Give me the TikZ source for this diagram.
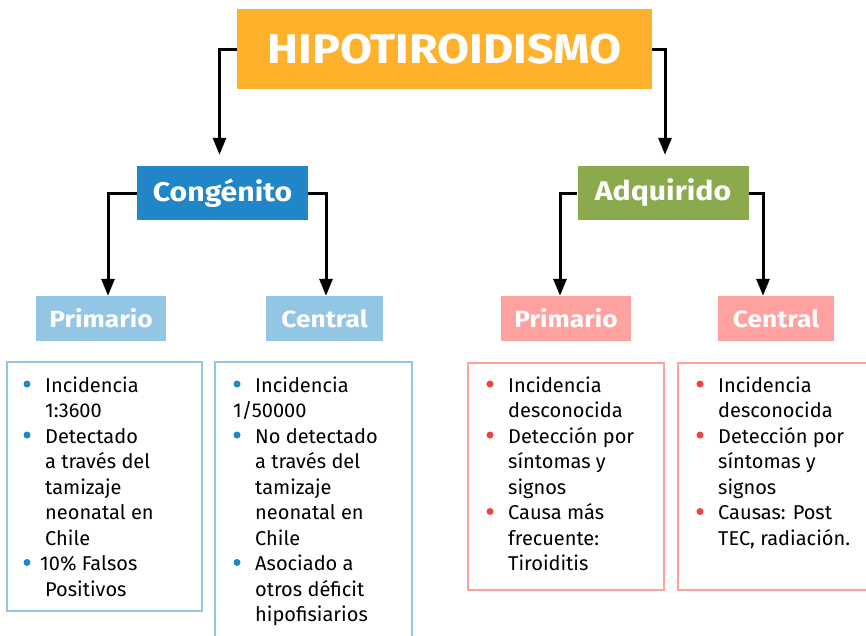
\documentclass[tikz,border=0pt]{standalone}
\usepackage{fontspec}
\setmainfont{Fira Sans}
\newfontfamily\hdfont[FakeStretch=1.12]{Fira Sans}
\usetikzlibrary{arrows.meta}
\definecolor{orng}{HTML}{FFB12B}
\definecolor{cblue}{HTML}{2086C8}
\definecolor{cgreen}{HTML}{8BAA4D}
\definecolor{lblue}{HTML}{93C5E5}
\definecolor{lpink}{HTML}{FFA19F}
\definecolor{bred}{HTML}{F0433E}
\tikzset{
  arr/.style={line width=3pt,-{Triangle[width=13pt,length=17pt]}},
  topbox/.style={fill=orng,text=white,minimum width=415pt,minimum height=80pt,inner sep=0pt,font=\hdfont\fontsize{41.5}{41.5}\selectfont\bfseries},
  midbox/.style={text=white,minimum width=171pt,minimum height=54pt,inner sep=0pt,font=\hdfont\fontsize{27}{27}\selectfont\bfseries},
  lowbox/.style={text=white,minimum height=45pt,inner sep=0pt,font=\hdfont\fontsize{23.5}{23.5}\selectfont\bfseries},
  listbox/.style={draw,line width=2.5pt,inner sep=0pt},
  txt/.style={anchor=base west,inner sep=0pt,font=\fontsize{20}{20}\selectfont},
  bul/.style={circle,inner sep=0pt,minimum size=7pt},
}
\begin{document}
\begin{tikzpicture}[x=1pt,y=-1pt]
\useasboundingbox (0,0) rectangle (866,635);
% headers
\node[topbox] (hipo) at (444.5,49) {HIPOTIROIDISMO};
\node[midbox,fill=cblue] (cong) at (222.5,193) {Congénito};
\node[midbox,fill=cgreen] (adq) at (663,193) {Adquirido};
\node[lowbox,fill=lblue,minimum width=130pt] (cprim) at (101,318.5) {Primario};
\node[lowbox,fill=lblue,minimum width=117pt] (ccen) at (324.5,318.5) {Central};
\node[lowbox,fill=lpink,minimum width=130pt] (aprim) at (566,318.5) {Primario};
\node[lowbox,fill=lpink,minimum width=116pt] (acen) at (776,318.5) {Central};
% connectors
\draw[arr] (hipo.west) -| ([xshift=-3pt,yshift=11pt]cong.north);
\draw[arr] (hipo.east) -| ([xshift=2pt,yshift=11pt]adq.north);
\draw[arr] (cong.west) -| ([xshift=7pt]cprim.north);
\draw[arr] (cong.east) -| ([xshift=1.5pt]ccen.north);
\draw[arr] (adq.west) -| ([xshift=-6pt]aprim.north);
\draw[arr] (adq.east) -| ([xshift=-13pt]acen.north);
% list boxes
\node[listbox,draw=lblue,minimum width=195pt,minimum height=249pt] (l1) at (104.5,486.5) {};
\node[listbox,draw=lblue,minimum width=197pt,minimum height=290pt] (l2) at (313.5,507) {};
\node[listbox,draw=lpink,minimum width=196pt,minimum height=227pt] (l3) at (566,476.5) {};
\node[listbox,draw=lpink,minimum width=202pt,minimum height=227pt] (l4) at (779,476.5) {};
% box 1
\node[bul,fill=cblue] (b1a) at (27,384) {};
\node[bul,fill=cblue] (b1b) at (27,435) {};
\node[bul,fill=cblue] (b1c) at (27,562.5) {};
\node[txt] (t11) at (45,392) {Incidencia};
\node[txt] (t12) at (45,417.5) {1:3600};
\node[txt] (t13) at (45,443) {Detectado};
\node[txt] (t14) at (45,468.5) {a través del};
\node[txt] (t15) at (45,494) {tamizaje};
\node[txt] (t16) at (45,519.5) {neonatal en};
\node[txt] (t17) at (45,545) {Chile};
\node[txt] (t18) at (40,570.5) {10\% Falsos};
\node[txt] (t19) at (45,596) {Positivos};
% box 2
\node[bul,fill=cblue] (b2a) at (237,384) {};
\node[bul,fill=cblue] (b2b) at (237,435) {};
\node[bul,fill=cblue] (b2c) at (237,562.5) {};
\node[txt] (t21) at (255,392) {Incidencia};
\node[txt] (t22) at (233,417.5) {1/50000};
\node[txt] (t23) at (255,443) {No detectado};
\node[txt] (t24) at (255,468.5) {a través del};
\node[txt] (t25) at (255,494) {tamizaje};
\node[txt] (t26) at (255,519.5) {neonatal en};
\node[txt] (t27) at (255,545) {Chile};
\node[txt] (t28) at (255,570.5) {Asociado a};
\node[txt] (t29) at (255,596) {otros déficit};
\node[txt] (t2a) at (255,621.5) {hipofisiarios};
% box 3
\node[bul,fill=bred] (b3a) at (490,384) {};
\node[bul,fill=bred] (b3b) at (490,435) {};
\node[bul,fill=bred] (b3c) at (490,511.5) {};
\node[txt] (t31) at (508,392) {Incidencia};
\node[txt] (t32) at (508,417.5) {desconocida};
\node[txt] (t33) at (508,443) {Detección por};
\node[txt] (t34) at (508,468.5) {síntomas y};
\node[txt] (t35) at (508,494) {signos};
\node[txt] (t36) at (508,519.5) {Causa más};
\node[txt] (t37) at (508,545) {frecuente:};
\node[txt] (t38) at (508,570.5) {Tiroiditis};
% box 4
\node[bul,fill=bred] (b4a) at (700,384) {};
\node[bul,fill=bred] (b4b) at (700,435) {};
\node[bul,fill=bred] (b4c) at (700,511.5) {};
\node[txt] (t41) at (718,392) {Incidencia};
\node[txt] (t42) at (718,417.5) {desconocida};
\node[txt] (t43) at (718,443) {Detección por};
\node[txt] (t44) at (718,468.5) {síntomas y};
\node[txt] (t45) at (718,494) {signos};
\node[txt] (t46) at (718,519.5) {Causas: Post};
\node[txt] (t47) at (718,545) {TEC, radiación.};
\end{tikzpicture}
\end{document}
